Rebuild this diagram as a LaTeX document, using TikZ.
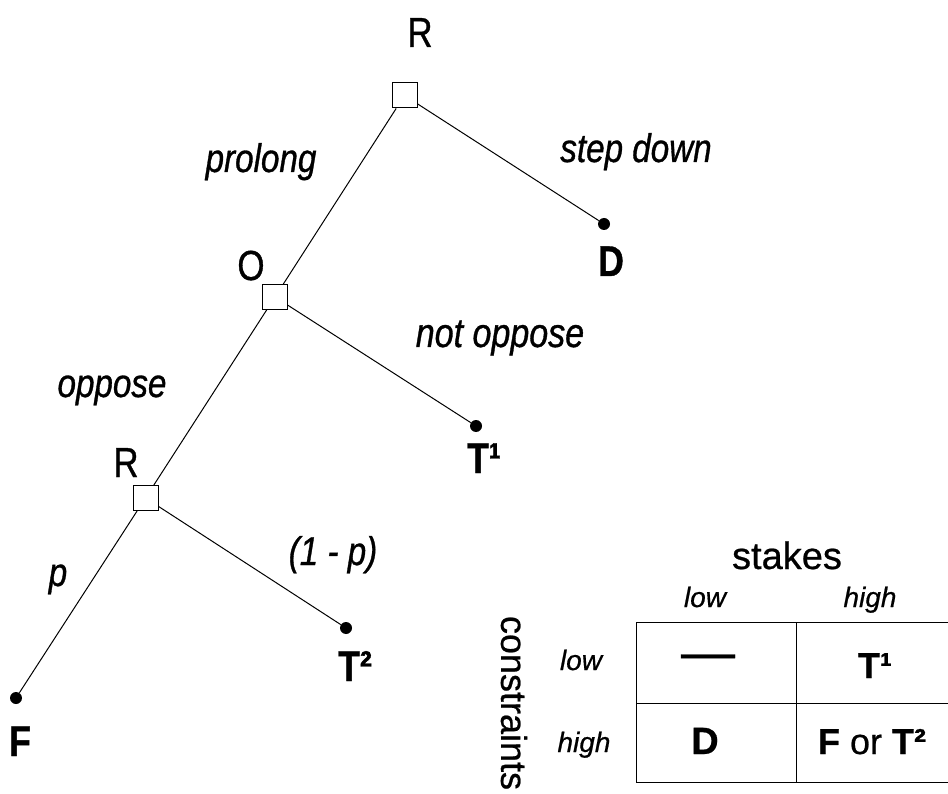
\documentclass[tikz,border=0pt]{standalone}
\usepackage{fontspec}
\setmainfont{Liberation Sans}[FakeBold=0.6]
\newfontfamily\narrowfont{Liberation Sans}[FakeStretch=0.83,FakeBold=0.8]
\newfontfamily\tablefont{Liberation Sans}[FakeBold=0.6]
\newfontfamily\widefont{Liberation Sans}[FakeStretch=1.5,FakeBold=1]
\begin{document}
\begin{tikzpicture}[x=1pt,y=-1pt,
  decision/.style={draw,line width=1pt,minimum size=25pt,inner sep=0pt,fill=white},
  leaf/.style={circle,fill=black,inner sep=0pt,minimum size=12pt},
  branch/.style={line width=1pt},
  player/.style={font=\narrowfont\fontsize{42}{46}\selectfont,anchor=base,inner sep=0pt},
  outcome/.style={font=\narrowfont\bfseries\fontsize{43}{46}\selectfont,anchor=base,inner sep=0pt},
  move/.style={font=\narrowfont\itshape\fontsize{40}{44}\selectfont,anchor=base,inner sep=0pt},
  axis/.style={font=\tablefont\fontsize{38}{42}\selectfont,inner sep=0pt},
  level/.style={font=\tablefont\itshape\fontsize{28}{32}\selectfont,anchor=base,inner sep=0pt},
  cell/.style={font=\tablefont\bfseries\fontsize{36}{40}\selectfont,anchor=base,inner sep=0pt},
  grid/.style={line width=1pt}]
\clip (0,0) rectangle (948,794);
\fill[white] (0,0) rectangle (948,794);

% decision nodes
\node[decision] (rtop) at (404.5,95.5) {};
\node[decision] (onode) at (275,297) {};
\node[decision] (rlow) at (145.5,498) {};

% terminal outcomes
\node[leaf] (dD) at (604,224) {};
\node[leaf] (dT1) at (476,426) {};
\node[leaf] (dT2) at (346,628) {};
\node[leaf] (dF) at (16,698) {};

% branches
\draw[branch] (rtop) -- (onode);
\draw[branch] (rtop) -- (dD);
\draw[branch] (onode) -- (rlow);
\draw[branch] (onode) -- (dT1);
\draw[branch] (rlow) -- (dF);
\draw[branch] (rlow) -- (dT2);

% players
\node[player] (lrtop) at (420,47) {R};
\node[player] (lo) at (251,280) {O};
\node[player] (lrlow) at (126,477) {R};

% outcomes
\node[outcome] (lD) at (611,276) {D};
\node[outcome] (lT1) at (484,473) {T¹};
\node[outcome] (lT2) at (355,681) {T²};
\node[outcome] (lF) at (20,756) {F};

% moves
\node[move] (mprolong) at (261,172) {prolong};
\node[move] (mstep) at (636,162) {step down};
\node[move,font=\narrowfont\itshape\fontsize{41}{44}\selectfont] (mnot) at (500,347) {not oppose};
\node[move] (moppose) at (112,397) {oppose};
\node[move] (mp) at (58,586) {p};
\node[move] (mq) at (333,565) {(1 - p)};

% summary table
\draw[grid] (636,622) rectangle (960,782);
\draw[grid] (636,703) -- (960,703);
\draw[grid] (796,622) -- (796,782);

\node[axis,anchor=base] (stakes) at (787,569) {stakes};
\node[axis,rotate=-90,font=\tablefont\fontsize{36}{40}\selectfont] (constraints) at (514,703) {constraints};
\node[level] (slow) at (705,607) {low};
\node[level] (shigh) at (870,607) {high};
\node[level] (clow) at (581,670) {low};
\node[level] (chigh) at (584,752) {high};

\node[cell] (c11) at (708,666) {\widefont —};
\node[cell] (c12) at (875,678) {T¹};
\node[cell,font=\tablefont\bfseries\fontsize{38}{40}\selectfont] (c21) at (705,754) {D};
\node[cell] (c22) at (872,754) {F \mdseries or \bfseries T²};
\end{tikzpicture}
\end{document}
